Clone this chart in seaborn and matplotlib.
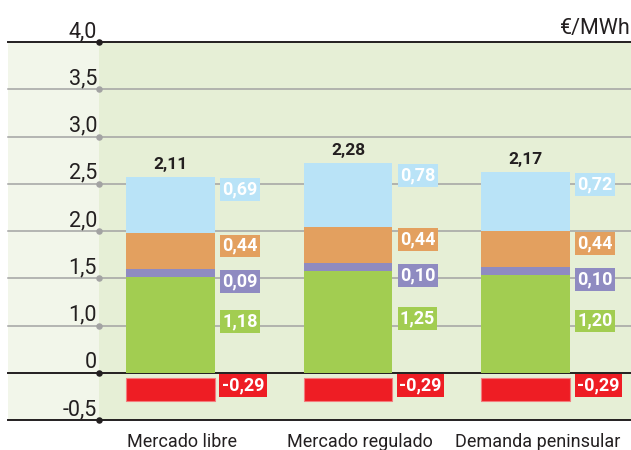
import numpy as np
import matplotlib.pyplot as plt
import seaborn as sns

# values (€/MWh)
categories = ['Mercado libre', 'Mercado regulado', 'Demanda peninsular']
green_vals = [1.18, 1.25, 1.20]
purple_vals = [0.09, 0.10, 0.10]
orange_vals = [0.44, 0.44, 0.44]
blue_vals = [0.69, 0.78, 0.72]
red_vals = [-0.29, -0.29, -0.29]
tick_labels = ['-0,5', '0', '1,0', '1,5', '2,0', '2,5', '3,0', '3,5', '4,0']
unit_label = '€/MWh'

green = '#a2cd51'
purple = '#8f8bc1'
orange = '#e3a05f'
blue = '#b9e3f7'
red = '#ee1d24'
dark = '#231f20'
grey = '#a3a3a3'

plt.rcParams['font.family'] = ['Roboto', 'DejaVu Sans']


def fmt(v):
    return f'{v:.2f}'.replace('.', ',')


def px(n):
    # pixels -> points at dpi 100
    return n * 0.72


PX_UNIT = 81.5          # pixels per €/MWh on the bars
step = 47.25 / PX_UNIT  # spacing of the drawn ticks

fig = plt.figure(figsize=(6.31, 4.5), dpi=100)
ax = fig.add_axes([8 / 631, 30 / 450, 623 / 631, 378 / 450])
ax.set_facecolor('#e6efd6')

# stacked positive segments
stack = np.column_stack([green_vals, purple_vals, orange_vals, blue_vals])
bottoms = np.hstack([np.zeros((len(categories), 1)), np.cumsum(stack, axis=1)[:, :-1]])
for j, col in enumerate([green, purple, orange, blue]):
    sns.barplot(x=categories, y=stack[:, j], bottom=bottoms[:, j], color=col,
                saturation=1, width=0.5, errorbar=None, linewidth=0, zorder=3, ax=ax)

gap = 5 / PX_UNIT
sns.barplot(x=categories, y=red_vals, bottom=-gap, color=red, saturation=1, width=0.5,
            errorbar=None, edgecolor='#f47c7e', linewidth=0.8, zorder=3, ax=ax)

xmin, xmax = -0.915, 2.594
band_x = xmin + 91 / 177.5
ax.set_xlim(xmin, xmax)
ax.set_ylim(-step, 7 * step)
ax.axvspan(xmin, band_x, color='#f2f6ea', lw=0, zorder=0)

# gridlines, dots and tick labels
for k, lab in enumerate(tick_labels):
    y = (k - 1) * step
    strong = lab in ('4,0', '0', '-0,5')
    ax.axhline(y, color=dark if strong else grey, lw=1.4 if strong else 1.1,
               zorder=1, clip_on=False)
    ax.scatter([band_x], [y], s=22, color=dark if strong else grey, lw=0,
               zorder=2, clip_on=False)
    ax.annotate(lab, xy=(band_x, y), xytext=(px(-2), px(5)), textcoords='offset points',
                ha='right', va='baseline', fontsize=15.5, color=dark)

# value boxes
box_kw = dict(textcoords='offset points', ha='left', va='center', fontsize=13,
              fontweight='bold', color='white', zorder=4)
box_style = 'square,pad=0.13'
for i in range(len(categories)):
    g, p, o, b, r = green_vals[i], purple_vals[i], orange_vals[i], blue_vals[i], red_vals[i]
    edge = i + 0.25
    tops = [(g + p + o + b, b, blue), (g + p + o, o, orange), (g + p, p, purple)]
    for top, v, col in tops:
        ax.annotate(fmt(v), xy=(edge, top), xytext=(px(7.5), px(-12.5)),
                    bbox=dict(boxstyle=box_style, fc=col, ec='none'), **box_kw)
    ax.annotate(fmt(g), xy=(edge, g / 2), xytext=(px(7.5), px(3)),
                bbox=dict(boxstyle=box_style, fc=green, ec='none'), **box_kw)
    ax.annotate(fmt(r), xy=(edge, 0), xytext=(px(7), px(-12.5)),
                bbox=dict(boxstyle=box_style, fc=red, ec='none'), **box_kw)
    # net total above the bar
    ax.annotate(fmt(g + p + o + b + r), xy=(i, g + p + o + b), xytext=(0, px(8)),
                textcoords='offset points', ha='center', va='baseline', fontsize=12.5,
                fontweight='bold', color=dark)
    ax.annotate(categories[i], xy=(i, -step), xytext=(px(12), px(-27)),
                textcoords='offset points', ha='center', va='baseline', fontsize=13,
                color=dark, annotation_clip=False)

ax.set_xlabel('')
ax.set_ylabel('')
ax.set_xticks([])
ax.set_yticks([])
for s in ax.spines.values():
    s.set_visible(False)

fig.text(1.0, 1 - 34 / 450, unit_label, ha='right', va='baseline', fontsize=15.5, color=dark)

fig.savefig('out.png', dpi=100)
